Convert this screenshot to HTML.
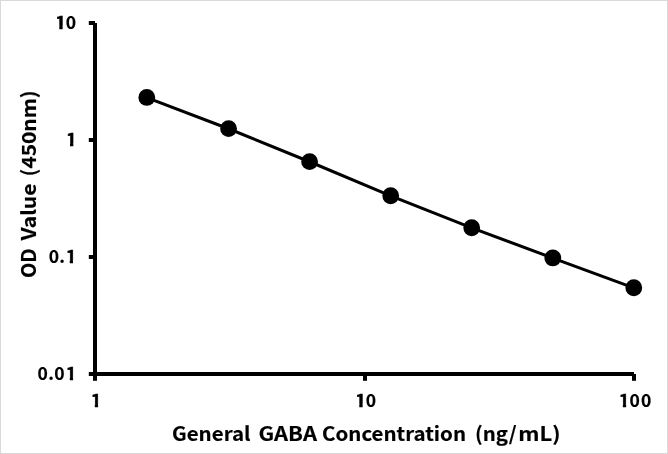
<!DOCTYPE html>
<html>
<head>
<meta charset="utf-8">
<style>
html,body{margin:0;padding:0;background:#fff;}
body{width:668px;height:454px;overflow:hidden;}
#chart{position:absolute;left:0;top:0;width:668px;height:454px;background:#fff;}
svg{position:absolute;left:0;top:0;will-change:transform;}
text{font-family:"Noto Sans CJK SC","Liberation Sans",sans-serif;font-weight:700;fill:#000;stroke:#000;stroke-width:0.15px;}
</style>
</head>
<body>
<div id="chart">
<svg width="668" height="454" viewBox="0 0 668 454">
  <defs><clipPath id="c0"><path clip-rule="evenodd" d="M0,0H668V454H0Z M55.79,25.65H59.33V30.05H55.79Z M62.58,25.65H65.94V30.05H62.58Z"/></clipPath><clipPath id="c1"><path clip-rule="evenodd" d="M0,0H668V454H0Z M66.49,143.05H70.03V147.45H66.49Z M73.28,143.05H76.64V147.45H73.28Z"/></clipPath><clipPath id="c2"><path clip-rule="evenodd" d="M0,0H668V454H0Z M66.24,260.05H69.78V264.45H66.24Z M73.03,260.05H76.39V264.45H73.03Z"/></clipPath><clipPath id="c3"><path clip-rule="evenodd" d="M0,0H668V454H0Z M66.29,377.05H69.83V381.45H66.29Z M73.08,377.05H76.44V381.45H73.08Z"/></clipPath><clipPath id="c4"><path clip-rule="evenodd" d="M0,0H668V454H0Z M91.29,403.75H94.83V408.15H91.29Z M98.08,403.75H101.44V408.15H98.08Z"/></clipPath><clipPath id="c5"><path clip-rule="evenodd" d="M0,0H668V454H0Z M355.79,403.75H359.33V408.15H355.79Z M362.58,403.75H365.94V408.15H362.58Z"/></clipPath><clipPath id="c6"><path clip-rule="evenodd" d="M0,0H668V454H0Z M619.34,403.75H622.88V408.15H619.34Z M626.13,403.75H629.49V408.15H626.13Z"/></clipPath></defs>
  <rect x="0.5" y="0.5" width="667" height="453" fill="#fff" stroke="#d9d9d9" stroke-width="1"/>
  <g stroke="#000" stroke-width="4" stroke-linecap="butt" fill="none">
    <line x1="95" y1="23" x2="95" y2="376"/>
    <line x1="93" y1="374" x2="634" y2="374"/>
    <line x1="88.8" y1="23" x2="95" y2="23"/>
    <line x1="88.8" y1="140" x2="95" y2="140"/>
    <line x1="88.8" y1="257" x2="95" y2="257"/>
    <line x1="88.8" y1="374" x2="95" y2="374"/>
    <line x1="95" y1="374" x2="95" y2="380.8"/>
    <line x1="365" y1="374" x2="365" y2="380.8"/>
    <line x1="634" y1="374" x2="634" y2="380.8"/>
  </g>
  <polyline fill="none" stroke="#000" stroke-width="3" stroke-linejoin="round" points="146.8,97.55 228.6,128.75 309.6,161.75 390.7,195.85 471.7,227.85 552.8,258.05 633.8,287.85"/>
  <g fill="#000">
    <circle cx="146.8" cy="97.45" r="8.4"/>
    <circle cx="228.6" cy="128.65" r="8.4"/>
    <circle cx="309.6" cy="161.65" r="8.4"/>
    <circle cx="390.7" cy="195.75" r="8.4"/>
    <circle cx="471.7" cy="227.75" r="8.4"/>
    <circle cx="552.8" cy="257.95" r="8.4"/>
    <circle cx="633.8" cy="287.75" r="8.4"/>
  </g>
    <text class="t" x="55.44 65.64" y="29.05" font-size="17.5" clip-path="url(#c0)"><tspan style="stroke-width:0.6px">1</tspan>0</text>
  <text class="t" x="66.14" y="146.45" font-size="17.5" clip-path="url(#c1)"><tspan style="stroke-width:0.6px">1</tspan></text>
  <text class="t" x="48.64 59.31 65.89" y="263.45" font-size="17.5" clip-path="url(#c2)">0.<tspan style="stroke-width:0.6px">1</tspan></text>
  <text class="t" x="37.49 48.31 54.29 65.94" y="380.45" font-size="17.5" clip-path="url(#c3)">0.0<tspan style="stroke-width:0.6px">1</tspan></text>
  <text class="t" x="90.94" y="407.15" font-size="17.5" clip-path="url(#c4)"><tspan style="stroke-width:0.6px">1</tspan></text>
  <text class="t" x="355.44 365.64" y="407.15" font-size="17.5" clip-path="url(#c5)"><tspan style="stroke-width:0.6px">1</tspan>0</text>
  <text class="t" x="618.99 629.59 641.09" y="407.15" font-size="17.5" clip-path="url(#c6)"><tspan style="stroke-width:0.6px">1</tspan>00</text>
  <text class="t" x="172.00" y="441.05" font-size="19.5" textLength="78.57" lengthAdjust="spacingAndGlyphs">General</text>
  <text class="t" x="258.50" y="441.05" font-size="19.5" textLength="58.54" lengthAdjust="spacingAndGlyphs">GABA</text>
  <text class="t" x="322.00" y="441.05" font-size="19.5" textLength="144.05" lengthAdjust="spacingAndGlyphs">Concentration</text>
  <text class="t" x="475.00" y="441.05" font-size="19.5" textLength="41.63" lengthAdjust="spacingAndGlyphs">(ng/</text>
  <text class="t" x="518.20" y="441.05" font-size="19.5" textLength="42.30" lengthAdjust="spacingAndGlyphs">mL)</text>
  <text class="t" transform="translate(36.30,278.00) rotate(-90)" font-size="19.5" textLength="29.57" lengthAdjust="spacingAndGlyphs">OD</text>
  <text class="t" transform="translate(36.30,240.50) rotate(-90)" font-size="19.5" textLength="57.01" lengthAdjust="spacingAndGlyphs">Value</text>
  <text class="t" transform="translate(36.30,176.50) rotate(-90)" font-size="19.5" textLength="86.17" lengthAdjust="spacingAndGlyphs">(450nm)</text>
</svg>
</div>
</body>
</html>
